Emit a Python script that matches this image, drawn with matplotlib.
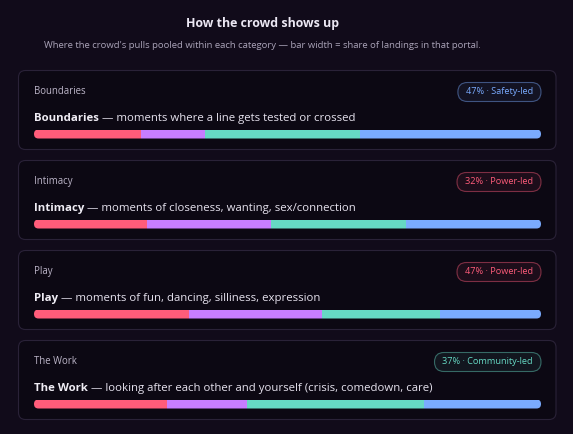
import matplotlib.pyplot as plt
from matplotlib.patches import FancyBboxPatch

# data
categories = ['Boundaries', 'Intimacy', 'Play', 'The Work']
descriptions = [
    'moments where a line gets tested or crossed',
    'moments of closeness, wanting, sex/connection',
    'moments of fun, dancing, silliness, expression',
    'looking after each other and yourself (crisis, comedown, care)',
]
# share of landings per segment (red, purple, teal, blue)
red_share = [21.1, 22.3, 30.6, 26.2]
purple_share = [12.6, 24.5, 26.2, 15.8]
teal_share = [30.6, 26.6, 23.2, 34.9]
blue_share = [35.7, 26.6, 19.9, 23.1]
badges = ['47% · Safety-led', '32% · Power-led', '47% · Power-led', '37% · Community-led']
badge_kind = ['safety', 'power', 'power', 'community']

seg_colors = ['#ff5c7a', '#c77dff', '#66d9c4', '#7aabff']
badge_colors = {'safety': '#7aabff', 'power': '#ff5c7a', 'community': '#66d9c4'}
bg = '#110b1a'

plt.rcParams['font.family'] = ['Open Sans', 'DejaVu Sans']

W, H = 573, 434
fig = plt.figure(figsize=(W / 100, H / 100), dpi=100)
fig.patch.set_facecolor(bg)
ax = fig.add_axes([0, 0, 1, 1])
ax.set_xlim(0, W)
ax.set_ylim(H, 0)
ax.axis('off')

ax.text(262, 24, 'How the crowd shows up', ha='center', va='center',
        fontsize=8.9, fontweight='bold', color='#ece8f4')
ax.text(262, 46, "Where the crowd's pulls pooled within each category \u2014 bar width = share of landings in that portal.",
        ha='center', va='center', fontsize=6.8, color='#aaa3b8')

card_x0, card_x1 = 18.5, 556
bar_x0, bar_x1 = 34, 541
bar_h = 9
for i, cat in enumerate(categories):
    top = 70.5 + i * 90
    card = FancyBboxPatch((card_x0, top), card_x1 - card_x0, 79,
                          boxstyle='round,pad=0,rounding_size=7',
                          fc='#0c0813', ec='#2a2238', lw=0.8)
    ax.add_patch(card)
    ax.text(34, top + 21, cat, ha='left', va='center', fontsize=6.9, color='#bcb5c8')

    # badge
    col = badge_colors[badge_kind[i]]
    bt = ax.text(533, top + 21.5, badges[i], ha='right', va='center', fontsize=6.6, color=col)
    fig.canvas.draw()
    bb = bt.get_window_extent().transformed(ax.transData.inverted())
    bx0, bx1 = min(bb.x0, bb.x1) - 8, max(bb.x0, bb.x1) + 8
    pill = FancyBboxPatch((bx0, top + 12), bx1 - bx0, 19,
                          boxstyle='round,pad=0,rounding_size=9.5',
                          fc=col, ec='none', alpha=0.07)
    ax.add_patch(pill)
    pill = FancyBboxPatch((bx0, top + 12), bx1 - bx0, 19,
                          boxstyle='round,pad=0,rounding_size=9.5',
                          fc='none', ec=col, lw=0.8, alpha=0.45)
    ax.add_patch(pill)

    # description: bold name + rest
    t1 = ax.text(34, top + 48, cat, ha='left', va='center', fontsize=8.2,
                 fontweight='bold', color='#f0edf5')
    ax.annotate(' \u2014 ' + descriptions[i], xy=(1, 0.5), xycoords=t1,
                ha='left', va='center', fontsize=8.2, color='#e6e2ee')

    # stacked bar
    by = top + 59
    total = red_share[i] + purple_share[i] + teal_share[i] + blue_share[i]
    bax = fig.add_axes([bar_x0 / W, 1 - (by + bar_h) / H, (bar_x1 - bar_x0) / W, bar_h / H])
    bax.set_xlim(0, total)
    bax.set_ylim(-0.5, 0.5)
    bax.axis('off')
    clip = FancyBboxPatch((bar_x0, by), bar_x1 - bar_x0, bar_h,
                          boxstyle='round,pad=0,rounding_size=4.5',
                          transform=ax.transData, fc='none', ec='none')
    left = 0
    for vals, c in zip([red_share, purple_share, teal_share, blue_share], seg_colors):
        rects = bax.barh(0, vals[i], left=left, height=1.0, color=c, linewidth=0)
        for r in rects:
            r.set_clip_path(clip)
        left += vals[i]

fig.savefig('out.png', dpi=100, facecolor=bg)
